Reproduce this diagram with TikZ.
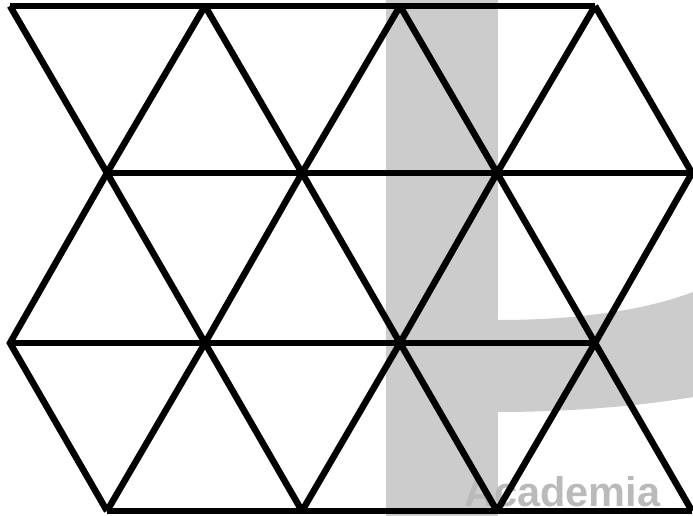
\documentclass[tikz,border=0pt]{standalone}
\usepackage{fontspec}
\setmainfont{Liberation Sans}
\usetikzlibrary{calc}

\begin{document}
\begin{tikzpicture}[x=1pt, y=-1pt,
        wmbar/.style={fill=black!20, draw=none},
        wmtext/.style={text=black!27, font=\bfseries\fontsize{41.5}{41.5}\selectfont, inner sep=0pt},
        edge/.style={line width=6.5pt, line join=miter}
      ]
        \useasboundingbox (0,0) rectangle (693,516);

        % Wasserzeichen
        \fill[wmbar] (386,0) rectangle (498,516);
        \fill[wmbar] (498,320) .. controls (570,320) and (640,312) .. (693,292)
          -- (693,397) .. controls (640,406) and (570,412) .. (498,412) -- cycle;
        \node[wmtext, anchor=base west] (logo) at (464,506) {Academia};

        % Gitterpunkte
        \foreach \i in {0,...,3} {
          \coordinate (a\i) at (10+195*\i, 6);
          \coordinate (b\i) at (107+195*\i, 173);
          \coordinate (c\i) at (10+195*\i, 343);
          \coordinate (d\i) at (107+195*\i, 511);
        }

        % Waagrechte
        \draw[edge] (a0) -- (a3);
        \draw[edge] (b0) -- (b3);
        \draw[edge] (c0) -- (c3);
        \draw[edge] (d0) -- (d3);

        % Schraege
        \foreach \i in {0,...,3}
          \draw[edge] (a\i) -- (b\i) -- (c\i) -- (d\i);
        \foreach \i/\j in {1/0,2/1,3/2}
          \draw[edge] (a\i) -- (b\j) -- (c\i) -- (d\j);
      \end{tikzpicture}
\end{document}
